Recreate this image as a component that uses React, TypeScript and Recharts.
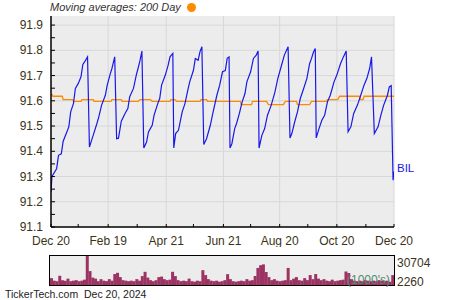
import React from 'react';
import { LineChart, Line, XAxis, YAxis, CartesianGrid, ReferenceLine, BarChart, Bar } from 'recharts';

const priceDays = [0,1,6,8,11,13,17,19,21,24,26,29,32,34,37,39,41,45,49,51,54,58,60,63,65,68,70,72,75,79,82,84,88,91,93,95,97,99,102,104,108,110,114,116,118,122,125,127,130,131,133,136,140,143,146,148,152,154,157,159,161,163,166,170,173,177,180,183,186,188,190,191,193,196,198,201,204,207,209,213,216,219,221,222,225,228,231,235,239,242,246,249,253,255,257,260,263,266,269,273,276,278,280,282,283,286,289,292,295,298,302,305,309,312,315,317,320,323,327,330,334,337,340,342,345,349,352,355,359,361,363,365,366];
const priceValues = [91.239,91.300,91.331,91.384,91.390,91.440,91.477,91.497,91.556,91.590,91.649,91.668,91.695,91.744,91.761,91.774,91.417,91.463,91.510,91.536,91.583,91.622,91.662,91.704,91.728,91.774,91.450,91.452,91.519,91.550,91.569,91.616,91.649,91.702,91.730,91.760,91.797,91.413,91.437,91.477,91.503,91.543,91.590,91.609,91.662,91.702,91.741,91.774,91.788,91.413,91.470,91.483,91.556,91.590,91.642,91.675,91.721,91.768,91.761,91.795,91.814,91.427,91.450,91.503,91.556,91.622,91.662,91.715,91.720,91.768,91.774,91.413,91.430,91.490,91.510,91.550,91.596,91.629,91.675,91.715,91.768,91.781,91.797,91.413,91.463,91.490,91.543,91.583,91.635,91.688,91.741,91.781,91.814,91.453,91.470,91.516,91.556,91.609,91.642,91.688,91.748,91.768,91.792,91.807,91.453,91.490,91.523,91.543,91.596,91.622,91.675,91.702,91.748,91.774,91.797,91.477,91.497,91.550,91.583,91.616,91.662,91.688,91.728,91.774,91.470,91.497,91.543,91.583,91.622,91.655,91.660,91.285,91.320];

const maDays = [0,1,2,12,13,23,24,32,33,45,46,64,65,75,76,93,95,106,108,127,128,132,134,159,160,166,167,202,203,214,215,230,232,248,250,262,263,276,278,294,295,306,308,329,330,333,334,366];
const maValues = [91.625,91.625,91.618,91.618,91.605,91.605,91.598,91.598,91.605,91.605,91.598,91.598,91.605,91.605,91.598,91.598,91.605,91.605,91.598,91.598,91.605,91.605,91.598,91.598,91.605,91.605,91.598,91.598,91.585,91.585,91.598,91.598,91.585,91.585,91.598,91.598,91.585,91.585,91.598,91.598,91.605,91.605,91.618,91.618,91.605,91.605,91.618,91.618];

const volumeValues = [9000,6500,6000,11300,7000,6500,8500,6000,6500,7000,6000,6500,7500,30704,15900,9500,8500,6000,8000,6500,6000,8000,6500,13000,14200,10000,7000,6500,6000,6500,6000,8000,6500,11000,15200,9500,7000,6000,7000,10000,10500,8000,7000,7500,15200,11000,7000,6000,6500,6000,8500,6000,5500,6500,6000,16800,12000,8000,6500,6000,6500,5500,6000,7000,12900,8000,6000,5500,6000,6500,6000,8000,6500,7000,11000,19000,21700,22500,15000,10000,7000,8000,6500,6000,6500,7000,19000,7000,8500,10000,7000,6500,9000,7000,12000,8000,13000,8500,7000,8000,6500,6000,7500,6000,6500,7000,7500,15500,14000,8000,6500,6000,6500,6000,7000,6500,6000,6500,6000,7000,6500,6000,6500,5500,12000];

const xMajorDays = [0,61,123,184,244,305,366];
const xMajorLabels = ['Dec 20','Feb 19','Apr 21','Jun 21','Aug 20','Oct 20','Dec 20'];
const xMinorDays = [29,92,152,213,274,336];
const yMajor = [91.1,91.2,91.3,91.4,91.5,91.6,91.7,91.8,91.9];
const yMinor = [91.15,91.25,91.35,91.45,91.55,91.65,91.75,91.85];
const volTicks = [2260,30704];

const priceData = priceDays.map((d, i) => ({ d, v: priceValues[i] }));
const maData = maDays.map((d, i) => ({ d, v: maValues[i] }));
const volData = volumeValues.map((v, i) => ({ i, v }));

const FONT = '"Liberation Sans", Arial, sans-serif';
const LABEL = '#3b3317';
const BG = '#ececec';
const GRID = '#d8d8d8';

const XTick = (props: any) => {
  const { x, y, payload } = props;
  const idx = xMajorDays.indexOf(payload.value);
  return (
    <g>
      <line x1={x} x2={x} y1={y} y2={y - 3} stroke="#000" />
      {idx >= 0 && (
        <text x={x} y={y + 18} textAnchor="middle" fill={LABEL} fontSize={12} fontFamily={FONT}>
          {xMajorLabels[idx]}
        </text>
      )}
    </g>
  );
};

const YTick = (props: any) => {
  const { x, y, payload } = props;
  const v = payload.value;
  const major = yMajor.some((m) => Math.abs(m - v) < 1e-6);
  return (
    <g>
      <line x1={x} x2={x + 4} y1={y} y2={y} stroke="#000" />
      {major && (
        <text x={x - 8} y={y + 4} textAnchor="end" fill={LABEL} fontSize={12} fontFamily={FONT}>
          {v.toFixed(1)}
        </text>
      )}
    </g>
  );
};

const VolTick = (props: any) => {
  const { x, y, payload, index } = props;
  return (
    <text x={x + 3} y={index === 1 ? y + 11 : y + 1} textAnchor="start" fill={LABEL} fontSize={12} fontFamily={FONT}>
      {String(payload.value)}
    </text>
  );
};

export default function App() {
  return (
    <div style={{ position: 'fixed', left: 0, top: 0, width: 450, height: 300, background: '#fff', fontFamily: FONT }}>
      <div style={{ position: 'absolute', left: 0, top: 0 }}>
        <LineChart width={450} height={247} margin={{ top: 16, right: 56, left: 0, bottom: 0 }}>
          <CartesianGrid fill={BG} stroke="none" horizontal={false} vertical={false} />
          {yMajor.slice(1).map((v) => (
            <ReferenceLine key={'h' + v} y={v} stroke={GRID} strokeWidth={1} />
          ))}
          {xMajorDays.slice(1).map((d) => (
            <ReferenceLine key={'v' + d} x={d} stroke={GRID} strokeWidth={1} />
          ))}
          <XAxis
            dataKey="d"
            type="number"
            domain={[0, 366]}
            ticks={[...xMajorDays, ...xMinorDays].sort((a, b) => a - b)}
            interval={0}
            tickSize={0}
            tickMargin={0}
            tickLine={false}
            axisLine={{ stroke: '#000', strokeWidth: 1.5 }}
            tick={<XTick />}
            height={20}
            allowDataOverflow
          />
          <YAxis
            type="number"
            domain={[91.1, 91.936]}
            ticks={[...yMajor, ...yMinor].sort((a, b) => a - b)}
            interval={0}
            tickSize={0}
            tickMargin={0}
            tickLine={false}
            axisLine={{ stroke: '#000', strokeWidth: 1.5 }}
            tick={<YTick />}
            width={51}
            allowDataOverflow
          />
          <Line data={maData} dataKey="v" type="linear" stroke="#ff8a00" strokeWidth={1.3} dot={false} isAnimationActive={false} />
          <Line data={priceData} dataKey="v" type="linear" stroke="#1818e8" strokeWidth={1.2} dot={false} isAnimationActive={false} />
        </LineChart>
      </div>

      <div style={{ position: 'absolute', left: 50, top: 0, fontSize: 11, fontStyle: 'italic', color: '#333', lineHeight: '14px', whiteSpace: 'nowrap' }}>
        Moving averages: 200 Day
      </div>
      <div style={{ position: 'absolute', left: 187, top: 3, width: 9, height: 9, borderRadius: '50%', background: '#ff8a00' }} />
      <div style={{ position: 'absolute', left: 397, top: 160, fontSize: 11.5, color: '#1818e8', lineHeight: '16px' }}>BIL</div>

      <div style={{ position: 'absolute', left: 0, top: 250 }}>
        <BarChart width={450} height={40} data={volData} margin={{ top: 6, right: 0, left: 50, bottom: 5 }} barCategoryGap={0} barGap={0}>
          <CartesianGrid fill={BG} stroke="none" horizontal={false} vertical={false} />
          <XAxis dataKey="i" hide />
          <YAxis
            orientation="right"
            type="number"
            domain={[2260, 30704]}
            ticks={volTicks}
            interval={0}
            tickSize={0}
            tickMargin={0}
            tickLine={false}
            axisLine={false}
            tick={<VolTick />}
            width={56}
            allowDataOverflow
          />
          <Bar dataKey="v" fill="#9c3363" isAnimationActive={false} />
        </BarChart>
      </div>
      <div style={{ position: 'absolute', left: 49, top: 255, width: 346, height: 31, border: '1.5px solid #000', boxSizing: 'border-box' }} />
      <div style={{ position: 'absolute', left: 347, top: 273, fontSize: 12, color: '#4f8a6f', lineHeight: '14px' }}>(1000's)</div>
      <div style={{ position: 'absolute', left: 5, top: 288, fontSize: 10.5, color: '#222', lineHeight: '12px', whiteSpace: 'nowrap' }}>
        TickerTech.com&nbsp;&nbsp;Dec 20, 2024
      </div>
    </div>
  );
}
